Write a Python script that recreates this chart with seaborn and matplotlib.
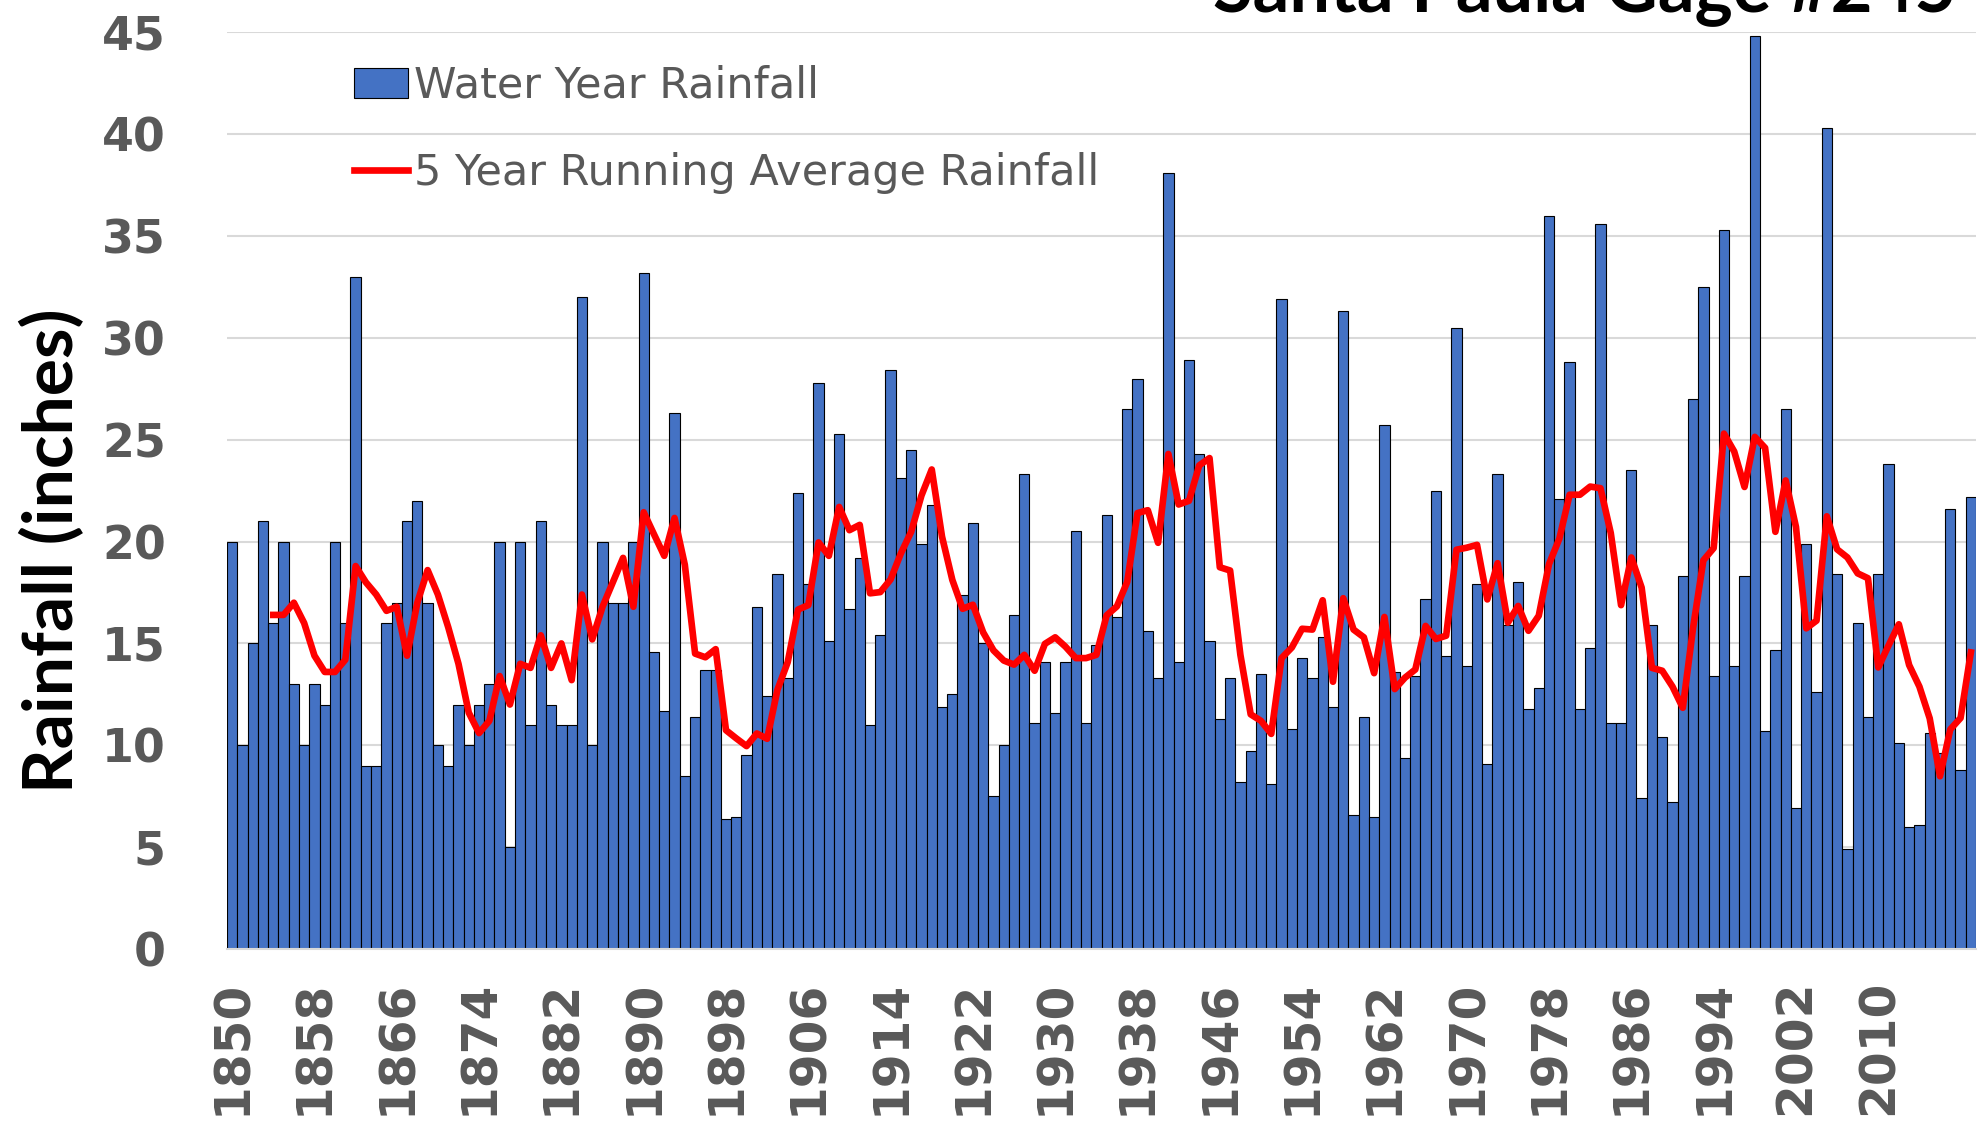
import numpy as np
import pandas as pd
import matplotlib
matplotlib.use("Agg")
import matplotlib.pyplot as plt
import seaborn as sns

years = list(range(1850, 2020))
rain = [
    20, 10, 15, 21, 16, 20, 13, 10, 13, 12,
    20, 16, 33, 9, 9, 16, 17, 21, 22, 17,
    10, 9, 12, 10, 12, 13, 20, 5, 20, 11,
    21, 12, 11, 11, 32, 10, 20, 17, 17, 20,
    33.2, 14.6, 11.7, 26.3, 8.5, 11.4, 13.7, 13.7, 6.4, 6.5,
    9.5, 16.8, 12.4, 18.4, 13.3, 22.4, 17.9, 27.8, 15.1, 25.3,
    16.7, 19.2, 11.0, 15.4, 28.4, 23.1, 24.5, 19.9, 21.8, 11.9,
    12.5, 17.4, 20.9, 15.0, 7.5, 10.0, 16.4, 23.3, 11.1, 14.1,
    11.6, 14.1, 20.5, 11.1, 14.9, 21.3, 16.3, 26.5, 28.0, 15.6,
    13.3, 38.1, 14.1, 28.9, 24.3, 15.1, 11.3, 13.3, 8.2, 9.7,
    13.5, 8.1, 31.9, 10.8, 14.3, 13.3, 15.3, 11.9, 31.3, 6.6,
    11.4, 6.5, 25.7, 13.6, 9.4, 13.4, 17.2, 22.5, 14.4, 30.5,
    13.9, 17.9, 9.1, 23.3, 15.9, 18.0, 11.8, 12.8, 36.0, 22.1,
    28.8, 11.8, 14.8, 35.6, 11.1, 11.1, 23.5, 7.4, 15.9, 10.4,
    7.2, 18.3, 27.0, 32.5, 13.4, 35.3, 13.9, 18.3, 44.8, 10.7,
    14.7, 26.5, 6.9, 19.9, 12.6, 40.3, 18.4, 4.9, 16.0, 11.4,
    18.4, 23.8, 10.1, 6.0, 6.1, 10.6, 9.6, 21.6, 8.8, 22.2,
]

# 5 year running average, 1854-2019
avg_years = list(range(1854, 2020))
avg = [
    16.4, 16.4, 17.0, 16.0, 14.4, 13.6,
    13.6, 14.2, 18.8, 18.0, 17.4, 16.6, 16.8, 14.4, 17.0, 18.6,
    17.4, 15.8, 14.0, 11.6, 10.6, 11.2, 13.4, 12.0, 14.0, 13.8,
    15.4, 13.8, 15.0, 13.2, 17.4, 15.2, 16.8, 18.0, 19.2, 16.8,
    21.44, 20.36, 19.30, 21.16, 18.86, 14.50, 14.32, 14.72, 10.74, 10.34,
    9.96, 10.58, 10.32, 12.72, 14.08, 16.66, 16.88, 19.96, 19.30, 21.70,
    20.56, 20.82, 17.46, 17.52, 18.14, 19.42, 20.48, 22.26, 23.54, 20.24,
    18.12, 16.70, 16.90, 15.54, 14.66, 14.16, 13.96, 14.44, 13.66, 14.98,
    15.30, 14.84, 14.28, 14.28, 14.44, 16.38, 16.82, 18.02, 21.40, 21.54,
    19.94, 24.30, 21.82, 22.00, 23.74, 24.10, 18.74, 18.58, 14.44, 11.52,
    11.20, 10.56, 14.28, 14.80, 15.72, 15.68, 17.12, 13.12, 17.22, 15.68,
    15.30, 13.54, 16.30, 12.76, 13.32, 13.72, 15.86, 15.22, 15.38, 19.60,
    19.70, 19.84, 17.16, 18.94, 16.02, 16.84, 15.62, 16.36, 18.90, 20.14,
    22.30, 22.30, 22.70, 22.62, 20.42, 16.88, 19.22, 17.74, 13.80, 13.66,
    12.88, 11.84, 15.76, 19.08, 19.68, 25.30, 24.42, 22.68, 25.14, 24.60,
    20.48, 23.00, 20.72, 15.74, 16.12, 21.24, 19.62, 19.22, 18.44, 18.20,
    13.82, 14.90, 15.94, 13.94, 12.88, 11.32, 8.48, 10.78, 11.34, 14.56,
]
tick_years = list(range(1850, 2011, 8))

df = pd.DataFrame({"year": years, "rain": rain})
avg_df = pd.DataFrame({"year": avg_years, "avg": avg})

W, H = 1985, 1124
fig = plt.figure(figsize=(W / 100, H / 100), dpi=100)
ax = fig.add_axes([227 / W, (H - 949) / H, (1976 - 227) / W, (949 - 32.3) / H])

sns.barplot(data=df, x="year", y="rain", native_scale=True, width=1.0,
            color="#4472C4", saturation=1, edgecolor="black", linewidth=0.8,
            ax=ax, label="Water Year Rainfall", zorder=2)
sns.lineplot(data=avg_df, x="year", y="avg", color="#FF0000", lw=4.8,
             ax=ax, label="5 Year Running Average Rainfall", zorder=3)

ax.set_xlim(1849.5, 2019.5)
ax.set_ylim(0, 45)
ax.set_yticks(range(0, 46, 5))
ax.set_xticks(tick_years)
ax.set_xticklabels([str(y) for y in tick_years], rotation=90)
ax.set_xlabel("")
ax.set_ylabel("")
ax.yaxis.grid(True, color="#D9D9D9", lw=1.5)
ax.xaxis.grid(False)
ax.set_axisbelow(True)
for s in ["left", "right", "top"]:
    ax.spines[s].set_visible(False)
ax.spines["bottom"].set_color("#D9D9D9")
ax.spines["bottom"].set_linewidth(1.5)
ax.tick_params(axis="both", length=0, labelcolor="#595959")
ax.tick_params(axis="y", pad=44, labelsize=33)
ax.tick_params(axis="x", pad=22, labelsize=35)
for lab in ax.get_xticklabels() + ax.get_yticklabels():
    lab.set_fontweight("bold")

handles, labels = ax.get_legend_handles_labels()
order = [labels.index("Water Year Rainfall"), labels.index("5 Year Running Average Rainfall")]
leg = ax.legend([handles[i] for i in order], [labels[i] for i in order],
                loc="upper left", bbox_to_anchor=(354 / W, 1 - 65 / H),
                bbox_transform=fig.transFigure, frameon=False, fontsize=31,
                borderpad=0, borderaxespad=0, handlelength=1.25,
                handleheight=0.7, handletextpad=0.14, labelspacing=1.05)
for t in leg.get_texts():
    t.set_color("#595959")

narrow = ["Lato", "DejaVu Sans"]
fig.text(52 / W, 1 - 551 / H, "Rainfall (inches)", rotation=90, ha="center",
         va="center", fontsize=50, fontweight="bold", family=narrow, color="black")
fig.text(1956 / W, 1 - 11 / H, "Santa Paula Gage #245", ha="right", va="baseline",
         fontsize=52, fontweight="bold", family=narrow, color="black")

fig.savefig("out.png", dpi=100)
